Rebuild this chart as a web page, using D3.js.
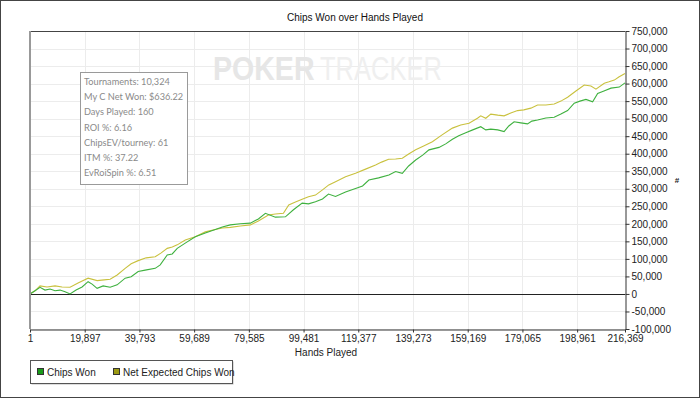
<!DOCTYPE html>
<html>
<head>
<meta charset="utf-8">
<script src="https://cdn.jsdelivr.net/npm/d3@7"></script>
<style>
  html, body { margin: 0; padding: 0; background: #fff; }
  svg { display: block; font-family: "Liberation Sans", Arial, sans-serif; }
</style>
</head>
<body>
<div id="chart"></div>
<script>
// hands played (x) and chips (y)
const chipsWonHands = [1, 1821, 3643, 5464, 7285, 9107, 10928, 12749, 14570, 16756, 18942, 21127, 22584, 24405, 26591, 29141, 31690, 34605, 36790, 39340, 41890, 45532, 47354, 49904, 51725, 53546, 56460, 60103, 63746, 67388, 69938, 72852, 76495, 80137, 83051, 85601, 89243, 92886, 95800, 98971, 101264, 103814, 106364, 108549, 111099, 114742, 118384, 120934, 123229, 126762, 130515, 132953, 135393, 137690, 140240, 142790, 145085, 148727, 151169, 153609, 155904, 158454, 161003, 163917, 165739, 167560, 170110, 172405, 174115, 176046, 178487, 180927, 182494, 184570, 187594, 190616, 193058, 195498, 197902, 199979, 202164, 204605, 206426, 208721, 211272, 214295, 216369];
const chipsWon = [0, 9000, 19000, 11000, 14000, 9000, 11000, 6000, 0, 11000, 20000, 35000, 28000, 16000, 23000, 19000, 26000, 45000, 49000, 64000, 68000, 73000, 83000, 111000, 114000, 130000, 145000, 163000, 174000, 184000, 191000, 197000, 200000, 202000, 214000, 230000, 219000, 220000, 240000, 259000, 257000, 263000, 271000, 285000, 278000, 291000, 301000, 308000, 325000, 331000, 339000, 349000, 344000, 365000, 382000, 396000, 411000, 418000, 428000, 441000, 451000, 460000, 468000, 477000, 468000, 470000, 468000, 463000, 479000, 491000, 488000, 485000, 493000, 496000, 502000, 504000, 513000, 523000, 544000, 550000, 555000, 548000, 572000, 579000, 587000, 590000, 602000];

const expectedHands = [1, 1821, 3643, 6192, 9107, 11656, 14570, 17484, 21127, 24405, 26955, 29141, 31690, 34605, 36790, 39340, 42254, 45532, 47718, 49904, 51725, 53546, 56460, 60103, 63746, 67388, 69938, 72852, 76495, 80137, 83051, 86694, 89243, 92157, 94090, 96529, 98971, 101264, 103814, 106364, 108658, 111099, 114742, 118384, 122027, 125669, 127855, 130413, 132953, 135393, 137690, 140240, 143154, 146323, 149711, 153609, 156631, 159654, 162714, 163917, 165739, 167560, 170110, 172405, 174845, 177285, 179580, 182130, 184570, 187594, 190616, 193058, 195498, 198521, 201543, 203986, 205807, 208830, 210546, 212476, 214114, 216369];
const expectedChips = [0, 9000, 23000, 20000, 23000, 20000, 19000, 31000, 45000, 38000, 40000, 42000, 54000, 73000, 86000, 95000, 103000, 106000, 117000, 130000, 134000, 140000, 154000, 163000, 177000, 184000, 188000, 190000, 194000, 197000, 208000, 225000, 228000, 230000, 254000, 262000, 270000, 277000, 282000, 297000, 311000, 320000, 334000, 344000, 356000, 368000, 376000, 384000, 385000, 387000, 399000, 411000, 422000, 434000, 453000, 473000, 482000, 487000, 501000, 508000, 501000, 513000, 510000, 508000, 516000, 523000, 525000, 530000, 539000, 539000, 542000, 550000, 561000, 579000, 596000, 593000, 584000, 601000, 605000, 610000, 619000, 629000];

const xTicks = [1, 19897, 39793, 59689, 79585, 99481, 119377, 139273, 159169, 179065, 198961, 216369];
const yTicks = [-100000, -50000, 0, 50000, 100000, 150000, 200000, 250000, 300000, 350000, 400000, 450000, 500000, 550000, 600000, 650000, 700000, 750000];

const seriesNames = ['Chips Won', 'Net Expected Chips Won'];
const lineColors = ['#3fb13f', '#c9c13e'];
const legendColors = ['#1a9a1a', '#9c9a12'];

const statLines = ['Tournaments: 10,324', 'My C Net Won: $636.22', 'Days Played: 160', 'ROI %: 6.16',
  'ChipsEV/tourney: 61', 'ITM %: 37.22', 'EvRoiSpin %: 6.51'];

const W = 700, H = 398;
const plot = { left: 30, right: 625, top: 31, bottom: 329 };

const svg = d3.select('#chart').append('svg')
  .attr('width', W)
  .attr('height', H);

// outer frame
svg.append('rect')
  .attr('x', 0.5).attr('y', 0.5)
  .attr('width', W - 1).attr('height', H - 1)
  .attr('fill', '#fff')
  .attr('stroke', '#444');

const x = d3.scaleLinear().domain([1, 216369]).range([plot.left, plot.right]);
const y = d3.scaleLinear().domain([-100000, 750000]).range([plot.bottom, plot.top]);

// gridlines
svg.append('g').selectAll('line')
  .data(yTicks)
  .enter().append('line')
  .attr('x1', plot.left).attr('x2', plot.right)
  .attr('y1', d => Math.round(y(d)) + 0.5)
  .attr('y2', d => Math.round(y(d)) + 0.5)
  .attr('stroke', '#ececec');

svg.append('g').selectAll('line')
  .data(xTicks.slice(1, -1))
  .enter().append('line')
  .attr('x1', d => Math.round(x(d)) + 0.5)
  .attr('x2', d => Math.round(x(d)) + 0.5)
  .attr('y1', plot.top).attr('y2', plot.bottom)
  .attr('stroke', '#ececec');

// watermark, squeezed horizontally to the logo's proportions
svg.append('text')
  .attr('transform', 'translate(213,80) scale(0.84,1)')
  .attr('fill', '#e6e6e6')
  .attr('font-weight', 'bold')
  .style('font-size', '34px')
  .text('POKER');
svg.append('text')
  .attr('transform', 'translate(320,80) scale(0.75,1)')
  .attr('fill', '#efefef')
  .style('font-size', '34px')
  .text('TRACKER');

// zero line
svg.append('line')
  .attr('x1', plot.left).attr('x2', plot.right)
  .attr('y1', Math.round(y(0)) + 0.5).attr('y2', Math.round(y(0)) + 0.5)
  .attr('stroke', '#222');

// series
const line = d3.line()
  .x(d => x(d[0]))
  .y(d => y(d[1]));

const series = [
  d3.zip(expectedHands, expectedChips),
  d3.zip(chipsWonHands, chipsWon)
];

svg.append('path')
  .datum(series[0])
  .attr('d', line)
  .attr('fill', 'none')
  .attr('stroke', lineColors[1])
  .attr('stroke-width', 1.1);

svg.append('path')
  .datum(series[1])
  .attr('d', line)
  .attr('fill', 'none')
  .attr('stroke', lineColors[0])
  .attr('stroke-width', 1.1);

// plot frame
svg.append('line')
  .attr('x1', plot.left).attr('x2', plot.right)
  .attr('y1', plot.top + 0.5).attr('y2', plot.top + 0.5)
  .attr('stroke', '#444');
svg.append('line')
  .attr('x1', plot.left).attr('x2', plot.left)
  .attr('y1', plot.top).attr('y2', plot.bottom)
  .attr('stroke', '#999')
  .attr('stroke-width', 2);

// axes
const fmt = d3.format(',');
const axisFont = g => g.selectAll('text')
  .attr('fill', '#222')
  .style('font-size', '10px')
  .style('font-family', '"Liberation Sans", Arial, sans-serif');

svg.append('g')
  .attr('transform', `translate(0,${plot.bottom + 0.5})`)
  .call(d3.axisBottom(x)
    .tickValues(xTicks)
    .tickFormat(d => fmt(d))
    .tickSize(3)
    .tickSizeOuter(0))
  .call(g => g.select('.domain').attr('stroke', '#333'))
  .call(g => g.selectAll('.tick line').attr('stroke', '#333'))
  .call(axisFont)
  .call(g => g.selectAll('text').attr('y', 5));

svg.append('g')
  .attr('transform', `translate(${plot.right + 0.5},0)`)
  .call(d3.axisRight(y)
    .tickValues(yTicks)
    .tickFormat(d => fmt(d).replace('\u2212', '-'))
    .tickSize(4)
    .tickSizeOuter(0))
  .call(g => g.select('.domain').attr('stroke', '#333'))
  .call(g => g.selectAll('.tick line').attr('stroke', '#333'))
  .call(axisFont)
  .call(g => g.selectAll('text').attr('x', 6));

// titles
svg.append('text')
  .attr('x', 355).attr('y', 21)
  .attr('text-anchor', 'middle')
  .attr('fill', '#111')
  .style('font-size', '10px')
  .text('Chips Won over Hands Played');

svg.append('text')
  .attr('x', 326).attr('y', 356)
  .attr('text-anchor', 'middle')
  .attr('fill', '#222')
  .style('font-size', '10px')
  .text('Hands Played');

svg.append('text')
  .attr('x', 677).attr('y', 183)
  .attr('text-anchor', 'middle')
  .attr('fill', '#222')
  .attr('font-weight', 'bold')
  .style('font-size', '8px')
  .text('#');

// stats box
svg.append('rect')
  .attr('x', 80.5).attr('y', 72.5)
  .attr('width', 107).attr('height', 112)
  .attr('fill', '#fff')
  .attr('stroke', '#9a9a9a');

svg.append('g').selectAll('text')
  .data(statLines)
  .enter().append('text')
  .attr('x', 84)
  .attr('y', (d, i) => 85 + i * 15.2)
  .attr('fill', '#8a8a8a')
  .style('font-family', 'Lato, "Open Sans", sans-serif')
  .style('font-size', '9.2px')
  .text(d => d);

// legend
svg.append('rect')
  .attr('x', 31.5).attr('y', 361.5)
  .attr('width', 202).attr('height', 23)
  .attr('fill', '#bbb');
svg.append('rect')
  .attr('x', 30.5).attr('y', 360.5)
  .attr('width', 202).attr('height', 23)
  .attr('fill', '#fff')
  .attr('stroke', '#555');

const legendX = [37, 113];
const legend = svg.append('g').selectAll('g')
  .data(seriesNames)
  .enter().append('g')
  .attr('transform', (d, i) => `translate(${legendX[i]},368)`);

legend.append('rect')
  .attr('x', 0.5).attr('y', 0.5)
  .attr('width', 6).attr('height', 6)
  .attr('fill', (d, i) => legendColors[i])
  .attr('stroke', '#333');

legend.append('text')
  .attr('x', 10).attr('y', 7.5)
  .attr('fill', '#222')
  .style('font-size', '10px')
  .text(d => d);
</script>
</body>
</html>
